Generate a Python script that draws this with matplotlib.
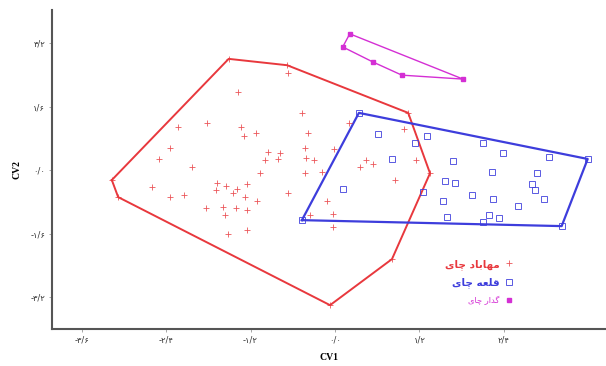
import matplotlib
matplotlib.use("Agg")
import matplotlib.pyplot as plt
import numpy as np

# canonical discriminant scores (CV1, CV2)
mahabad_cv1 = [-1.51, -0.68, 1.04, 1.35, 0.81, -0.07, -3.08, -3.17,
               -0.67, -1.38, -0.47, -1.82, -2.23, -1.34, -1.12, -1.29, -0.38, -2.34,
               -0.43, -0.95, -0.78, -2.50, -0.99, -0.81, -0.41, -0.30, -2.03, -0.43,
               -1.07, -0.18, -2.60, -1.68, -1.55, -1.25, -1.69, -1.39, -1.45, -2.34,
               -2.14, -1.28, -1.11, -0.67, -0.11, -1.83, -1.59, -1.41, -1.25, -1.56,
               -0.36, -0.03, -1.25, -1.52, -0.03, 0.20, -0.01, 0.98, 0.44, 0.36,
               0.54, 1.15, 0.85]
mahabad_cv2 = [2.80, 2.64, 1.44, -0.08, -2.24, -3.40, -0.68, -0.25,
               2.44, 1.96, 1.44, 1.18, 1.08, 1.08, 0.93, 0.86, 0.93, 0.55,
               0.55, 0.45, 0.43, 0.28, 0.25, 0.28, 0.30, 0.25, 0.08, -0.08,
               -0.08, -0.05, -0.43, -0.33, -0.40, -0.35, -0.50, -0.48, -0.58, -0.68,
               -0.63, -0.68, -0.78, -0.58, -0.78, -0.96, -0.93, -0.96, -1.01, -1.13,
               -1.13, -1.11, -1.51, -1.61, -1.44, 1.18, 0.53, 1.03, 0.25, 0.08,
               0.15, 0.25, -0.25]

qaleh_cv1 = [0.34, 3.59, 3.22, -0.47, 0.61, 1.31, 1.14, 0.81, 0.11, 1.25,
             2.10, 2.39, 3.04, 1.68, 2.23, 2.87, 1.56, 1.70, 2.80, 2.84,
             1.95, 2.24, 2.97, 1.53, 2.60, 1.59, 2.19, 2.33, 2.10]
qaleh_cv2 = [1.44, 0.28, -1.41, -1.26, 0.91, 0.86, 0.68, 0.28, -0.48, -0.55,
             0.68, 0.43, 0.33, 0.23, -0.05, -0.08, -0.28, -0.33, -0.35, -0.50,
             -0.63, -0.73, -0.73, -0.78, -0.91, -1.18, -1.13, -1.21, -1.31]

gadar_cv1 = [0.21, 1.82, 0.95, 0.54, 0.11]
gadar_cv2 = [3.43, 2.29, 2.39, 2.72, 3.10]

# matplotlib has no arabic shaping, so labels are written in presentation
# forms and visual (left to right) order
labels = ["\ufbfc\ufe8e\ufb7c \ufea9\ufe8e\ufe91\ufe8e\ufeec\ufee3",   # mahabad chay
          "\ufbfc\ufe8e\ufb7c \ufeea\ufecc\ufee0\ufed7",               # qaleh chay
          "\ufbfc\ufe8e\ufb7c \ufead\ufe8d\ufeaa\ufb94"]               # gadar chay

xticks = [-3.6, -2.4, -1.2, 0.0, 1.2, 2.4]
yticks = [-3.2, -1.6, 0.0, 1.6, 3.2]

red = "#e8383d"
blue = "#3d3ddc"
magenta = "#d42fd4"

def persian_num(v):
    s = "%.1f" % v
    s = s.replace("-0.0", "0.0").replace(".", "/")
    return s.translate(str.maketrans("0123456789", "\u06f0\u06f1\u06f2\u06f3\u06f4\u06f5\u06f6\u06f7\u06f8\u06f9"))

def hull(xs, ys):
    pts = sorted(set(zip(xs, ys)))
    def cross(o, a, b):
        return (a[0] - o[0]) * (b[1] - o[1]) - (a[1] - o[1]) * (b[0] - o[0])
    lower, upper = [], []
    for p in pts:
        while len(lower) >= 2 and cross(lower[-2], lower[-1], p) <= 0:
            lower.pop()
        lower.append(p)
    for p in reversed(pts):
        while len(upper) >= 2 and cross(upper[-2], upper[-1], p) <= 0:
            upper.pop()
        upper.append(p)
    h = lower[:-1] + upper[:-1]
    h.append(h[0])
    return np.array(h)

fig = plt.figure(figsize=(6.06, 3.66), dpi=100)
ax = fig.add_axes([0.0858, 0.1011, 0.9142, 0.8716])

h = hull(mahabad_cv1, mahabad_cv2)
ax.plot(h[:, 0], h[:, 1], color=red, lw=1.4)
h = hull(qaleh_cv1, qaleh_cv2)
ax.plot(h[:, 0], h[:, 1], color=blue, lw=1.6)
h = hull(gadar_cv1, gadar_cv2)
ax.plot(h[:, 0], h[:, 1], color=magenta, lw=1.0)

ax.plot(mahabad_cv1, mahabad_cv2, ls="none", marker="+", ms=5, mew=0.6,
        color=red, alpha=0.85, label=labels[0])
ax.plot(qaleh_cv1, qaleh_cv2, ls="none", marker="s", ms=5, mew=0.7,
        mfc="none", color=blue, alpha=0.85, label=labels[1])
ax.plot(gadar_cv1, gadar_cv2, ls="none", marker="s", ms=3.5,
        color=magenta, label=labels[2])

ax.set_xlim(-4.02, 3.85)
ax.set_ylim(-4.0, 4.03)
ax.set_xticks(xticks)
ax.set_xticklabels([persian_num(v) for v in xticks])
ax.set_yticks(yticks)
ax.set_yticklabels([persian_num(v) for v in yticks])
ax.tick_params(labelsize=6, length=2, width=0.6, color="#999999",
               labelcolor="#333333", pad=3)

for s in ["top", "right"]:
    ax.spines[s].set_visible(False)
for s in ["left", "bottom"]:
    ax.spines[s].set_color("#555555")
    ax.spines[s].set_linewidth(1.5)

ax.set_xlabel("CV1", family="Liberation Serif", fontsize=7, fontweight="bold", labelpad=6)
ax.set_ylabel("CV2", family="Liberation Serif", fontsize=7, fontweight="bold", labelpad=6)

leg = ax.legend(loc="center", bbox_to_anchor=(0.772, 0.147), frameon=False,
                markerfirst=False, handletextpad=0.4, handlelength=1.0,
                labelspacing=0.75, prop={"family": "DejaVu Sans", "size": 7.5},
                labelcolor=[red, blue, magenta])
for t in leg.get_texts()[:2]:
    t.set_fontweight("bold")
leg.get_texts()[2].set_fontsize(6)

fig.savefig("out.png", dpi=100)
